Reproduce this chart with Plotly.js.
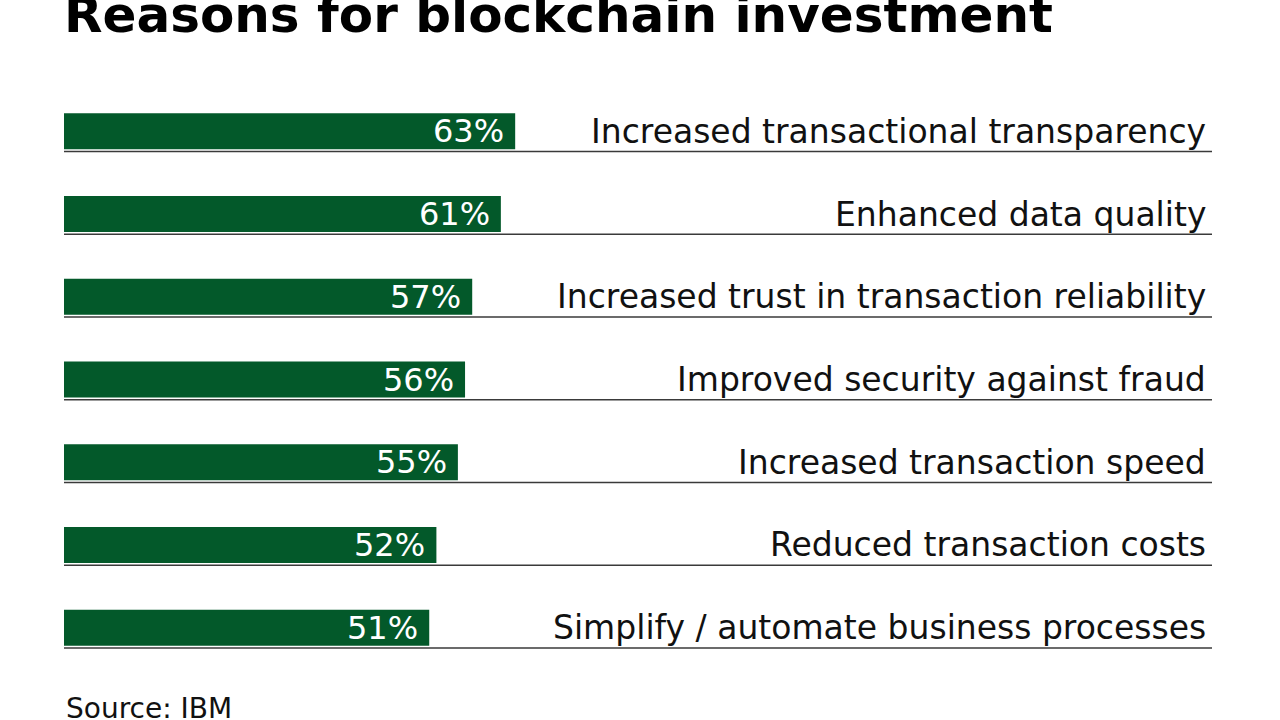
<!DOCTYPE html>
<html>
<head>
<meta charset="utf-8">
<script src="https://cdn.plot.ly/plotly-3.0.1.min.js"></script>
<style>html,body{margin:0;padding:0;background:#fff;}#chart{width:1280px;height:720px;}</style>
</head>
<body>
<div id="chart"></div>
<script>
const categories = [
  "Increased transactional transparency",
  "Enhanced data quality",
  "Increased trust in transaction reliability",
  "Improved security against fraud",
  "Increased transaction speed",
  "Reduced transaction costs",
  "Simplify / automate business processes"
];
const values = [63, 61, 57, 56, 55, 52, 51];
const valueLabels = values.map(v => v + "%");

const green = "#03592a";
const labelFont = "'DejaVu Sans', Verdana, sans-serif";

const annotations = [];
const shapes = [];
categories.forEach((c, i) => {
  annotations.push({
    x: 1, xref: "paper", y: i, yref: "y", text: c, showarrow: false,
    xanchor: "right", yanchor: "middle", xshift: -4,
    font: {family: labelFont, size: 33, color: "#111"}
  });
  annotations.push({
    x: values[i], xref: "x", y: i, yref: "y", text: valueLabels[i], showarrow: false,
    xanchor: "right", yanchor: "middle", xshift: -9,
    font: {family: labelFont, size: 32, color: "#fff"}
  });
  shapes.push({
    type: "line", xref: "paper", x0: 0, x1: 1, yref: "y", y0: i + 0.245, y1: i + 0.245,
    line: {color: "#3a3a3a", width: 1.5}
  });
});

// title
annotations.push({
  x: 0, xref: "paper", y: 1 + (90 - 37) / 579, yref: "paper",
  text: "<b>Reasons for blockchain investment</b>",
  showarrow: false, xanchor: "left", yanchor: "bottom", yshift: -9, xshift: -2,
  font: {family: labelFont, size: 50, color: "#000"}
});
// source
annotations.push({
  x: 0, xref: "paper", y: -(720 - 51 - 669 + 38) / 579, yref: "paper", text: "Source: IBM",
  showarrow: false, xanchor: "left", yanchor: "middle", yshift: -1,
  font: {family: labelFont, size: 28, color: "#111"}
});

const trace = {
  type: "bar", orientation: "h",
  y: categories.map((c, i) => i), x: values,
  marker: {color: green, line: {width: 0}},
  hoverinfo: "none"
};

const layout = {
  width: 1280, height: 720,
  margin: {l: 64, r: 68, t: 90, b: 51, pad: 0},
  paper_bgcolor: "#fff", plot_bgcolor: "#fff",
  showlegend: false,
  bargap: 0.565,
  xaxis: {range: [0, 160.3], visible: false, fixedrange: true},
  yaxis: {range: [6.5, -0.5], visible: false, fixedrange: true},
  shapes: shapes,
  annotations: annotations
};

Plotly.newPlot("chart", [trace], layout, {displayModeBar: false, staticPlot: true});
</script>
</body>
</html>
